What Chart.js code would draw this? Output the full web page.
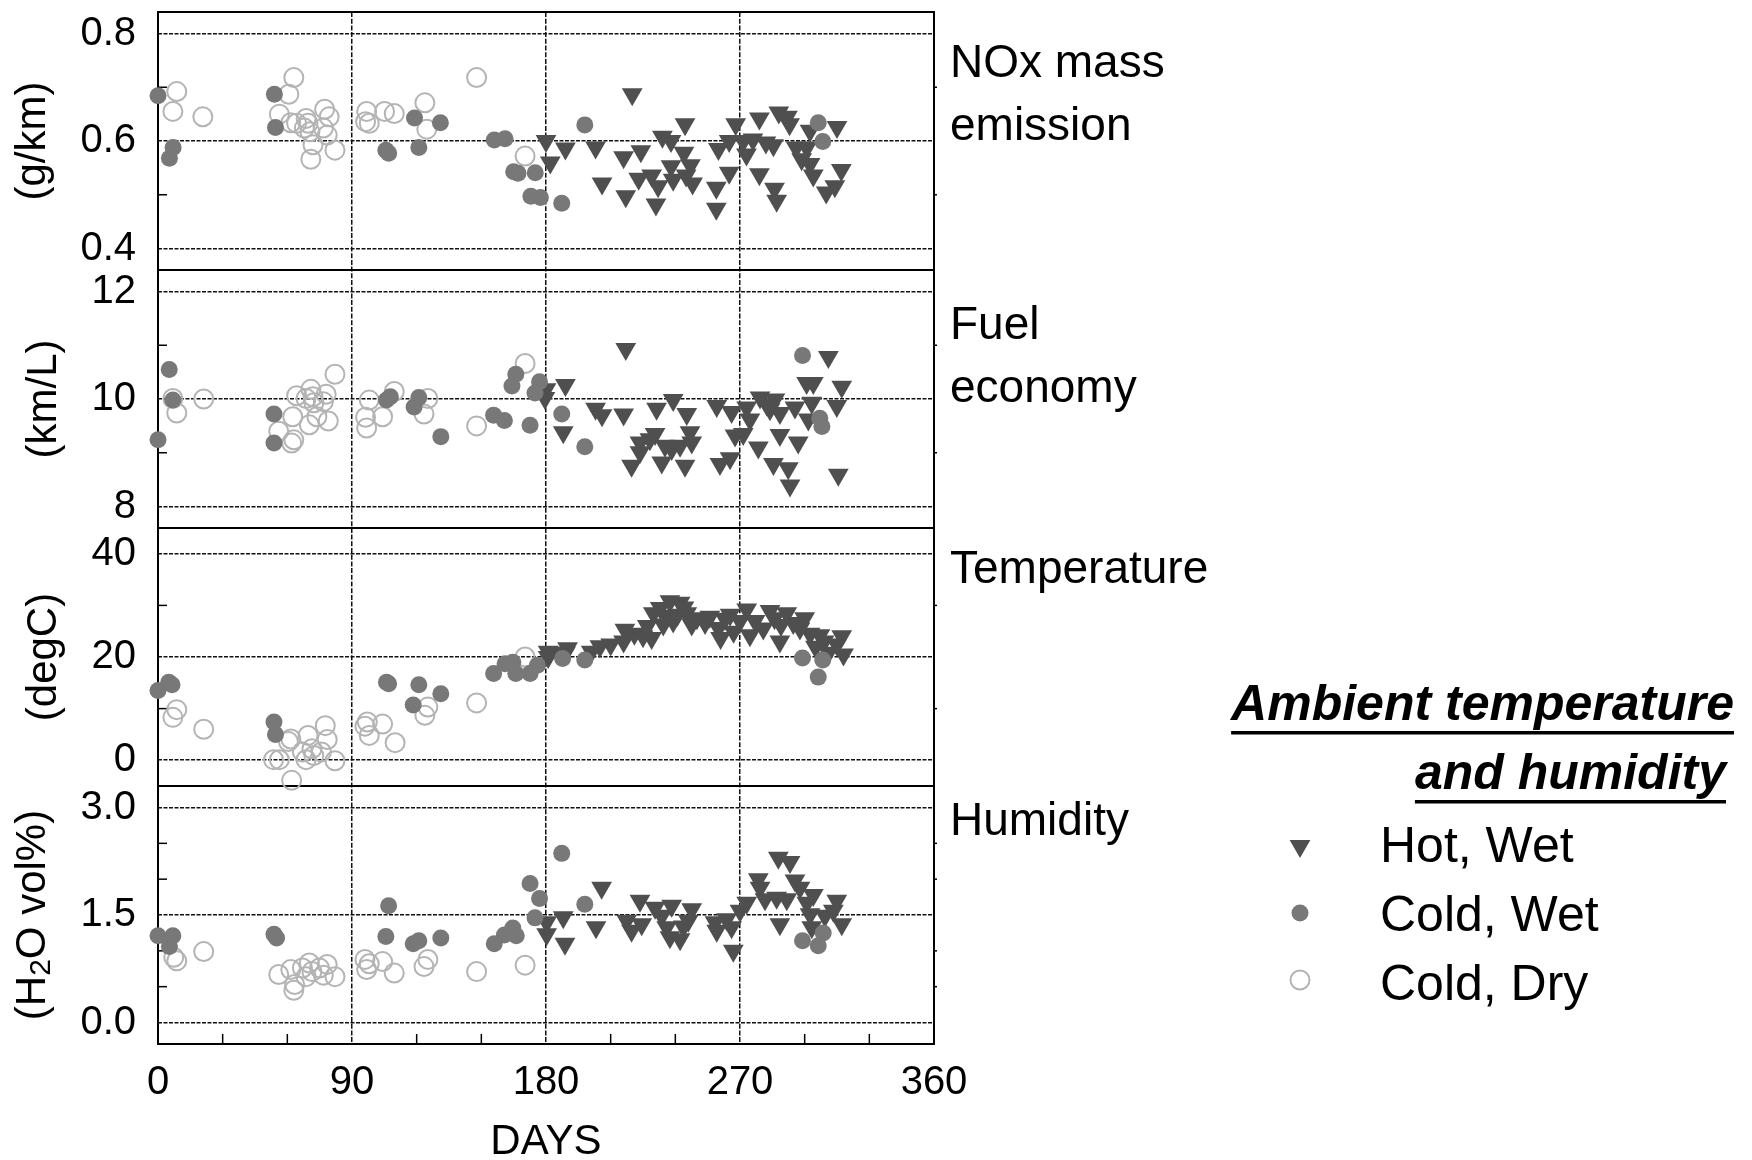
<!DOCTYPE html>
<html>
<head>
<meta charset="utf-8">
<title>NOx, fuel economy and ambient conditions over one year</title>
<script src="https://cdn.jsdelivr.net/npm/chart.js@4/dist/chart.umd.min.js"></script>
<style>
  html, body { margin: 0; padding: 0; background: #ffffff; }
  #wrap { width: 1752px; height: 1160px; }
</style>
</head>
<body>
<div id="wrap"><canvas id="chart" width="1752" height="1160"></canvas></div>
<script>
// ---------- data: [day, value] ----------
// NOx mass emission (g/km)
const noxHotWet = [[180,0.600],[182,0.560],[189,0.586],[203,0.588],[206,0.521],[216,0.570],[224,0.581],[217,0.497],[220,0.687],[234,0.608],[238,0.600],[244.5,0.631],[223,0.530],[229,0.536],[232,0.516],[231,0.482],[238,0.553],[239,0.528],[244,0.578],[247,0.555],[245,0.536],[248,0.521],[260,0.585],[265,0.541],[259,0.513],[259,0.474],[268,0.631],[265,0.600],[271.5,0.600],[273,0.575],[276,0.603],[279,0.642],[279,0.538],[282,0.597],[285.5,0.592],[288,0.653],[292,0.645],[293,0.631],[286,0.511],[287,0.489],[296,0.588],[301,0.588],[302.5,0.619],[298.6,0.566],[302.5,0.557],[304,0.536],[315,0.626],[317,0.546],[314,0.516],[310,0.504]];
const noxColdWet = [[0,0.684],[7,0.588],[5.3,0.568],[54,0.687],[54.5,0.625],[105.7,0.583],[107,0.577],[119,0.643],[121,0.588],[131,0.634],[156,0.602],[161,0.604],[165,0.543],[167,0.540],[175,0.541],[173,0.497],[177.4,0.495],[187.3,0.484],[198,0.630],[306.3,0.634],[308.4,0.599]];
const noxColdDry = [[8.7,0.692],[6.9,0.655],[20.8,0.645],[63,0.718],[60.7,0.687],[56.3,0.650],[61.6,0.634],[64.3,0.633],[68.7,0.642],[69.6,0.633],[67.9,0.624],[70.5,0.617],[71.9,0.593],[70.9,0.566],[77.3,0.659],[79.4,0.645],[76.7,0.624],[78.5,0.611],[82.1,0.583],[96.8,0.655],[96.3,0.636],[98,0.633],[105.1,0.655],[109.6,0.651],[123.8,0.671],[124.7,0.622],[147.8,0.718],[170.3,0.572]];

// Fuel economy (km/L)
const fuelHotWet = [[217,10.93],[189,10.26],[180,10.18],[179.5,10.02],[188,9.38],[203,9.82],[206,9.70],[216,9.71],[219.7,8.76],[223.6,9.19],[230.6,9.35],[231.3,9.82],[239,9.98],[245.3,9.72],[233.7,8.82],[244.5,8.76],[235.2,9.13],[238.3,9.07],[242.2,9.13],[247.6,9.19],[246.8,9.38],[223.6,9.01],[259.2,9.87],[266.1,9.76],[273.1,9.84],[274.6,9.62],[267.7,9.32],[271.5,9.35],[260.7,8.79],[265.4,8.90],[278.5,9.10],[279.3,10.03],[286.2,9.99],[283.9,9.81],[288.5,9.74],[288.5,9.33],[285.5,8.79],[292.4,8.71],[293.2,8.39],[297,9.19],[295.5,9.84],[300.9,10.30],[304,10.30],[303.3,9.93],[301.7,9.62],[311,10.78],[317.2,10.23],[314.9,9.87],[315.6,8.59],[228.2,9.25],[282.4,9.90]];
const fuelColdWet = [[0,9.24],[5.2,10.55],[6.9,9.98],[53.8,9.72],[53.8,9.18],[106,9.98],[107.8,10.04],[118.8,9.85],[121,10.03],[131.2,9.30],[155.7,9.70],[160.7,9.60],[166,10.46],[164.2,10.24],[172.6,9.51],[177,10.32],[174.9,10.11],[187.3,9.72],[198,9.11],[299,10.81],[307,9.64],[308,9.49]];
const fuelColdDry = [[6.9,10.01],[8.7,9.74],[21.2,10.0],[56,9.40],[62,9.18],[63,9.24],[64.3,10.06],[62.5,9.67],[68.7,10.01],[70.9,10.18],[71.9,10.04],[70.2,9.52],[72.3,9.93],[78,10.09],[76.7,9.95],[73.7,9.67],[79,9.59],[82.1,10.46],[98,9.98],[96.3,9.66],[96.8,9.46],[104.2,9.67],[109.6,10.14],[125.2,10.01],[123.4,9.72],[147.8,9.50],[170.3,10.66]];

// Ambient temperature (degC)
const tempHotWet = [[181,20.0],[181,21.0],[187,20.8],[189,20.8],[190,21.7],[201,21.0],[205,22.1],[210,22.4],[216,23.0],[216.6,25.3],[221,24.5],[225,24.0],[227,26.0],[229,23.7],[229.8,28.5],[233,29.5],[236,28.0],[237.5,30.8],[242.2,30.5],[234.4,26.3],[239,26.9],[241,28.2],[244,29.6],[247.6,26.3],[245.3,28.5],[250,27.5],[253.8,26.6],[256,27.8],[260,25.6],[261,23.7],[263,27.4],[265.4,28.2],[267,24.9],[270,27.0],[273.1,29.2],[274.6,24.2],[277,27.0],[280.8,25.5],[283.9,28.9],[286,27.5],[289,26.2],[291.7,28.5],[288.5,23.0],[294.7,26.6],[297.8,25.5],[300,27.5],[302.5,24.5],[305,22.0],[307.1,24.2],[309,23.0],[311,20.8],[317.2,24.0],[318,20.5],[314.9,22.4]];
const tempColdWet = [[0,13.5],[5,15.1],[6.5,14.6],[53.8,7.4],[54.5,5.0],[106,15.1],[107,14.8],[121,14.6],[118.4,10.7],[131.2,12.9],[155.7,16.8],[161,18.7],[164.6,19.0],[166,16.8],[172.6,16.8],[176,18.4],[187.7,19.7],[198,19.4],[299,19.8],[306.3,16.1],[308.4,19.4]];
const tempColdDry = [[8.7,9.8],[6.9,8.3],[21.2,6.0],[53.6,0.1],[60.5,3.6],[62,-3.9],[69.6,4.8],[77.6,6.7],[78.5,4.0],[75.8,1.6],[72.3,0.9],[68.7,0.1],[67,1.6],[71.4,2.2],[82.1,-0.1],[56.3,0.1],[61.6,4.1],[97.1,7.4],[96,6.6],[98,4.8],[104.2,7.0],[110,3.4],[125.2,10.3],[123.8,8.7],[147.8,11.1],[170.3,20.0]];

// Ambient humidity (H2O vol%)
const humHotWet = [[180.3,1.40],[180.3,1.23],[188,1.47],[188.8,1.10],[205.8,1.88],[203.2,1.33],[217.4,1.42],[219.7,1.28],[223.6,1.70],[224.4,1.37],[230.6,1.60],[233.7,1.49],[238.3,1.63],[236,1.33],[237.5,1.19],[242.2,1.16],[243.7,1.34],[247.6,1.58],[246,1.42],[258.4,1.40],[259.2,1.28],[263.8,1.44],[266.1,1.33],[266.9,1.00],[270,1.56],[273.1,1.67],[278.5,2.00],[279.3,1.88],[281.6,1.72],[287.8,2.30],[293.2,2.24],[288.5,1.37],[287,1.74],[295.5,1.98],[291.7,1.72],[297.8,1.88],[304,1.78],[301,1.67],[302.5,1.51],[303.3,1.33],[309.4,1.49],[314.9,1.70],[313.3,1.56],[317.2,1.37]];
const humColdWet = [[0,1.21],[6.9,1.21],[5.3,1.06],[53.8,1.23],[55,1.18],[105.7,1.20],[107,1.63],[118.4,1.10],[121,1.14],[131.2,1.18],[156,1.10],[160.7,1.22],[164.6,1.32],[166.2,1.21],[172.6,1.94],[177,1.73],[174.9,1.46],[187.3,2.36],[198,1.65],[299,1.14],[306.3,1.07],[308.6,1.25]];
const humColdDry = [[7.3,0.91],[8.7,0.86],[21.2,0.99],[56,0.67],[63,0.45],[63.4,0.53],[61.6,0.74],[67,0.76],[70.2,0.83],[71.4,0.71],[68.7,0.64],[76.7,0.66],[78.5,0.81],[82.1,0.64],[74.9,0.76],[96,0.88],[96.8,0.74],[98,0.82],[104.2,0.85],[109.6,0.69],[125.2,0.88],[123.4,0.78],[147.8,0.71],[170.3,0.80]];

// ---------- ticks ----------
const dayTicks = [0, 90, 180, 270, 360];
const dayMinorTicks = [30, 60, 120, 150, 210, 240, 300, 330];
const noxTicks = [0.4, 0.6, 0.8];     const noxTickLabels = ['0.4', '0.6', '0.8'];  const noxMinor = [0.5, 0.7];
const fuelTicks = [8, 10, 12];        const fuelTickLabels = ['8', '10', '12'];     const fuelMinor = [9, 11];
const tempTicks = [0, 20, 40];        const tempTickLabels = ['0', '20', '40'];     const tempMinor = [10, 30];
const humTicks = [0, 1.5, 3.0];       const humTickLabels = ['0.0', '1.5', '3.0'];  const humMinor = [0.5, 1.0, 2.0, 2.5];

// ---------- text ----------
const seriesNames = ['Hot, Wet', 'Cold, Wet', 'Cold, Dry'];
const legendTitle = ['Ambient temperature', 'and humidity'];
const xTitle = 'DAYS';

const FONT = "'Liberation Sans', Arial, Helvetica, sans-serif";

// marker look of each condition
const seriesStyles = [
  { pointStyle: 'triangle', rotation: 180, radius: 12,  backgroundColor: '#4f4f4f', borderColor: '#4f4f4f', borderWidth: 0, order: 2 },
  { pointStyle: 'circle',   rotation: 0,   radius: 8.5, backgroundColor: '#787878', borderColor: '#787878', borderWidth: 0, order: 0 },
  { pointStyle: 'circle',   rotation: 0,   radius: 9.5, backgroundColor: 'rgba(255,255,255,0)', borderColor: '#b4b4b4', borderWidth: 2, order: 1 }
];

// panels, top to bottom
const panels = [
  { id: 'yNox',  min: 0.36, max: 0.84, ticks: noxTicks,  labels: noxTickLabels,  minor: noxMinor,
    title: [['(g/km)', false]], side: ['NOx mass', 'emission'], sideFirst: 65,
    series: [noxHotWet, noxColdWet, noxColdDry] },
  { id: 'yFuel', min: 7.6, max: 12.4, ticks: fuelTicks, labels: fuelTickLabels, minor: fuelMinor,
    title: [['(km/L)', false]], side: ['Fuel', 'economy'], sideFirst: 69,
    series: [fuelHotWet, fuelColdWet, fuelColdDry] },
  { id: 'yTemp', min: -5, max: 45, ticks: tempTicks, labels: tempTickLabels, minor: tempMinor,
    title: [['(degC)', false]], side: ['Temperature'], sideFirst: 55,
    series: [tempHotWet, tempColdWet, tempColdDry] },
  { id: 'yHum',  min: -0.3, max: 3.3, ticks: humTicks, labels: humTickLabels, minor: humMinor,
    title: [['(H', false], ['2', true], ['O vol%)', false]], side: ['Humidity'], sideFirst: 49,
    series: [humHotWet, humColdWet, humColdDry] }
];

// ---------- datasets ----------
const datasets = [];
panels.forEach(p => {
  p.series.forEach((pts, k) => {
    const st = seriesStyles[k];
    datasets.push({
      label: seriesNames[k],
      data: pts,
      yAxisID: p.id,
      xAxisID: 'x',
      showLine: false,
      clip: false,
      order: st.order,
      pointStyle: st.pointStyle,
      pointRotation: st.rotation,
      pointRadius: st.radius,
      pointHoverRadius: st.radius,
      pointBackgroundColor: st.backgroundColor,
      pointBorderColor: st.borderColor,
      pointBorderWidth: st.borderWidth
    });
  });
});

// ---------- scales ----------
const GRID = '#111111';
const scales = {
  x: {
    type: 'linear', position: 'bottom', min: 0, max: 360,
    afterFit: s => { s.height = 116; s.paddingLeft = 0; s.paddingRight = 0; },
    afterBuildTicks: s => { s.ticks = dayTicks.map(v => ({ value: v })); },
    ticks: { font: { family: FONT, size: 40 }, color: '#000', padding: 15, maxRotation: 0, autoSkip: false,
             callback: v => String(v) },
    grid: { drawTicks: false, lineWidth: 1.5,
            color: c => (c.tick && (c.tick.value === 0 || c.tick.value === 360)) ? 'rgba(0,0,0,0)' : GRID },
    border: { display: false, dash: [5, 1.7] },
    title: { display: true, text: xTitle, color: '#000', font: { family: FONT, size: 42, lineHeight: 0.86 },
             padding: { top: 0, bottom: 0 } }
  }
};
// stacked panels are placed from the last defined (top) downward, so add them bottom first
panels.slice().reverse().forEach(p => {
  scales[p.id] = {
    type: 'linear', position: 'left', stack: 'panels', stackWeight: 1,
    min: p.min, max: p.max,
    afterFit: s => { s.width = 158; s.paddingTop = 0; s.paddingBottom = 0; },
    afterBuildTicks: s => { s.ticks = p.ticks.map(v => ({ value: v })); },
    ticks: { font: { family: FONT, size: 40 }, color: '#000', padding: 22,
             callback: (v, i) => p.labels[i] },
    grid: { drawTicks: false, lineWidth: 1.5, color: GRID },
    border: { display: false, dash: [4, 1.5] },
    title: { display: false }
  };
});

// ---------- drawing helpers ----------
function drawMarker(ctx, st, x, y) {
  ctx.save();
  ctx.fillStyle = st.backgroundColor;
  ctx.strokeStyle = st.borderColor;
  ctx.lineWidth = st.borderWidth;
  Chart.helpers.drawPoint(ctx, { pointStyle: st.pointStyle, rotation: st.rotation, radius: st.radius, borderWidth: st.borderWidth }, x, y);
  ctx.restore();
}

function seg(ctx, x1, y1, x2, y2) {
  ctx.beginPath(); ctx.moveTo(x1, y1); ctx.lineTo(x2, y2); ctx.stroke();
}

const panelDecor = {
  id: 'panelDecor',
  beforeDatasetsDraw(chart) {
    const { ctx, chartArea } = chart;
    const L = chartArea.left, R = chartArea.right;
    ctx.save();
    ctx.strokeStyle = '#000';
    // panel frames
    ctx.lineWidth = 2;
    panels.forEach(p => {
      const s = chart.scales[p.id];
      ctx.strokeRect(L, s.top, R - L, s.bottom - s.top);
    });
    // minor ticks on each panel
    ctx.lineWidth = 1.5;
    panels.forEach(p => {
      const s = chart.scales[p.id];
      p.minor.forEach(v => {
        const y = s.getPixelForValue(v);
        seg(ctx, L, y, L + 9, y);
        seg(ctx, R, y, R + 3, y);
      });
    });
    // minor day ticks along the bottom
    const xs = chart.scales.x;
    dayMinorTicks.forEach(v => {
      const x = xs.getPixelForValue(v);
      seg(ctx, x, chartArea.bottom, x, chartArea.bottom - 10);
    });
    ctx.restore();
  },
  afterDraw(chart) {
    const { ctx, chartArea } = chart;
    ctx.save();
    ctx.fillStyle = '#000';

    // unit titles, rotated, left of the tick labels
    panels.forEach(p => {
      const s = chart.scales[p.id];
      ctx.font = `40px ${FONT}`;
      const w = Math.max(...p.labels.map(t => ctx.measureText(t).width));
      const cx = s.right - 22 - w - 47;
      const cy = (s.top + s.bottom) / 2;
      const big = `42px ${FONT}`, small = `30px ${FONT}`;
      let total = 0;
      p.title.forEach(([t, sub]) => { ctx.font = sub ? small : big; total += ctx.measureText(t).width; });
      ctx.save();
      ctx.translate(cx, cy);
      ctx.rotate(-Math.PI / 2);
      ctx.textBaseline = 'middle';
      ctx.textAlign = 'left';
      let x = -total / 2;
      p.title.forEach(([t, sub]) => {
        ctx.font = sub ? small : big;
        ctx.fillText(t, x, sub ? 8 : 0);
        x += ctx.measureText(t).width;
      });
      ctx.restore();
    });

    // panel names at the right
    ctx.font = `46px ${FONT}`;
    ctx.textAlign = 'left';
    ctx.textBaseline = 'alphabetic';
    panels.forEach(p => {
      const s = chart.scales[p.id];
      p.side.forEach((t, i) => ctx.fillText(t, chartArea.right + 16, s.top + p.sideFirst + i * 63));
    });

    // legend
    ctx.font = `italic bold 50px ${FONT}`;
    ctx.textAlign = 'right';
    const titleRight = [1734, 1726], titleBase = [720, 789];
    legendTitle.forEach((t, i) => {
      ctx.fillText(t, titleRight[i], titleBase[i]);
      const w = ctx.measureText(t).width;
      ctx.fillRect(titleRight[i] - w, titleBase[i] + 11, w, 3.5);
    });
    ctx.font = `50px ${FONT}`;
    ctx.textAlign = 'left';
    const rowBase = [862, 931, 1000], markY = [846, 913, 980];
    seriesNames.forEach((t, i) => {
      drawMarker(ctx, seriesStyles[i], 1300, markY[i]);
      ctx.fillStyle = '#000';
      ctx.fillText(t, 1380, rowBase[i]);
    });
    ctx.restore();
  }
};

Chart.defaults.font.family = FONT;

new Chart(document.getElementById('chart'), {
  type: 'scatter',
  data: { datasets },
  options: {
    responsive: false,
    animation: false,
    events: [],
    layout: { padding: { left: 0, right: 818, top: 7, bottom: 0 } },
    plugins: { legend: { display: false }, tooltip: { enabled: false } },
    scales
  },
  plugins: [panelDecor]
});
</script>
</body>
</html>
